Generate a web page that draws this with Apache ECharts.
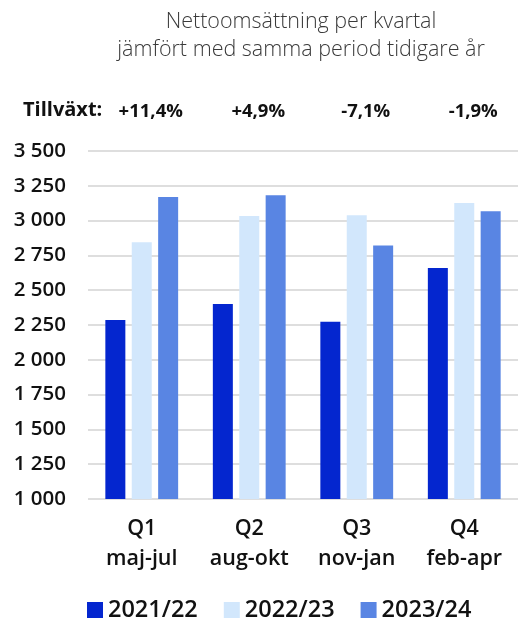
<!DOCTYPE html>
<html>
<head>
<meta charset="utf-8">
<script src="https://cdn.jsdelivr.net/npm/echarts@6/dist/echarts.min.js"></script>
<style>
  html, body { margin: 0; padding: 0; background: #fff; }
  #main { width: 518px; height: 618px; }
</style>
</head>
<body>
<div id="main"></div>
<script>
// kvartal och värden (MSEK)
var categories = ['Q1\nmaj-jul', 'Q2\naug-okt', 'Q3\nnov-jan', 'Q4\nfeb-apr'];
var growth = ['+11,4%', '+4,9%', '-7,1%', '-1,9%'];
var years = ['2021/22', '2022/23', '2023/24'];
var s2122 = [2286, 2401, 2274, 2659];
var s2223 = [2844, 3033, 3038, 3126];
var s2324 = [3169, 3182, 2822, 3067];
var colors = ['#0426CF', '#D2E7FC', '#5985E3'];

var chart = echarts.init(document.getElementById('main'));

function fmt(v) {
  return String(v).replace(/\B(?=(\d{3})+(?!\d))/g, ' ');
}

chart.setOption({
  animation: false,
  color: colors,
  textStyle: { fontFamily: 'Open Sans' },
  title: {
    text: 'Nettoomsättning per kvartal\njämfört med samma period tidigare år',
    left: 296,
    top: 3,
    textAlign: 'center',
    textStyle: { fontSize: 21.5, fontWeight: 300, color: '#3a3a3a', lineHeight: 28 }
  },
  graphic: [{
    type: 'text',
    left: 23,
    top: 100,
    style: { text: 'Tillväxt:', font: '700 20px "Open Sans"', fill: '#111' }
  }],
  legend: {
    data: years,
    left: 82,
    top: 593,
    itemWidth: 16,
    itemHeight: 16,
    itemGap: 26,
    icon: 'rect',
    textStyle: { fontSize: 23.5, fontWeight: 600, color: '#111' }
  },
  grid: { left: 88, right: 0, top: 151, bottom: 119 },
  xAxis: [{
    type: 'category',
    data: categories,
    axisLine: { show: false },
    axisTick: { show: false },
    axisLabel: { margin: 15, fontSize: 21.5, fontWeight: 600, color: '#111', lineHeight: 30 }
  }, {
    type: 'category',
    position: 'top',
    data: growth,
    axisLine: { show: false },
    axisTick: { show: false },
    axisLabel: { margin: 30, fontSize: 18.5, fontWeight: 700, color: '#111', padding: [0, 0, 0, 18] }
  }],
  yAxis: {
    type: 'value',
    min: 1000,
    max: 3500,
    interval: 250,
    axisLine: { show: false },
    axisTick: { show: false },
    splitLine: { lineStyle: { color: '#d3d3d3', width: 1.5 } },
    axisLabel: {
      margin: 22,
      fontSize: 20.5,
      fontWeight: 600,
      color: '#111',
      formatter: fmt
    }
  },
  series: [
    { name: years[0], type: 'bar', data: s2122, barWidth: 20, barGap: '32%', barCategoryGap: '32%' },
    { name: years[1], type: 'bar', data: s2223, barWidth: 20 },
    { name: years[2], type: 'bar', data: s2324, barWidth: 20 }
  ]
});
</script>
</body>
</html>
